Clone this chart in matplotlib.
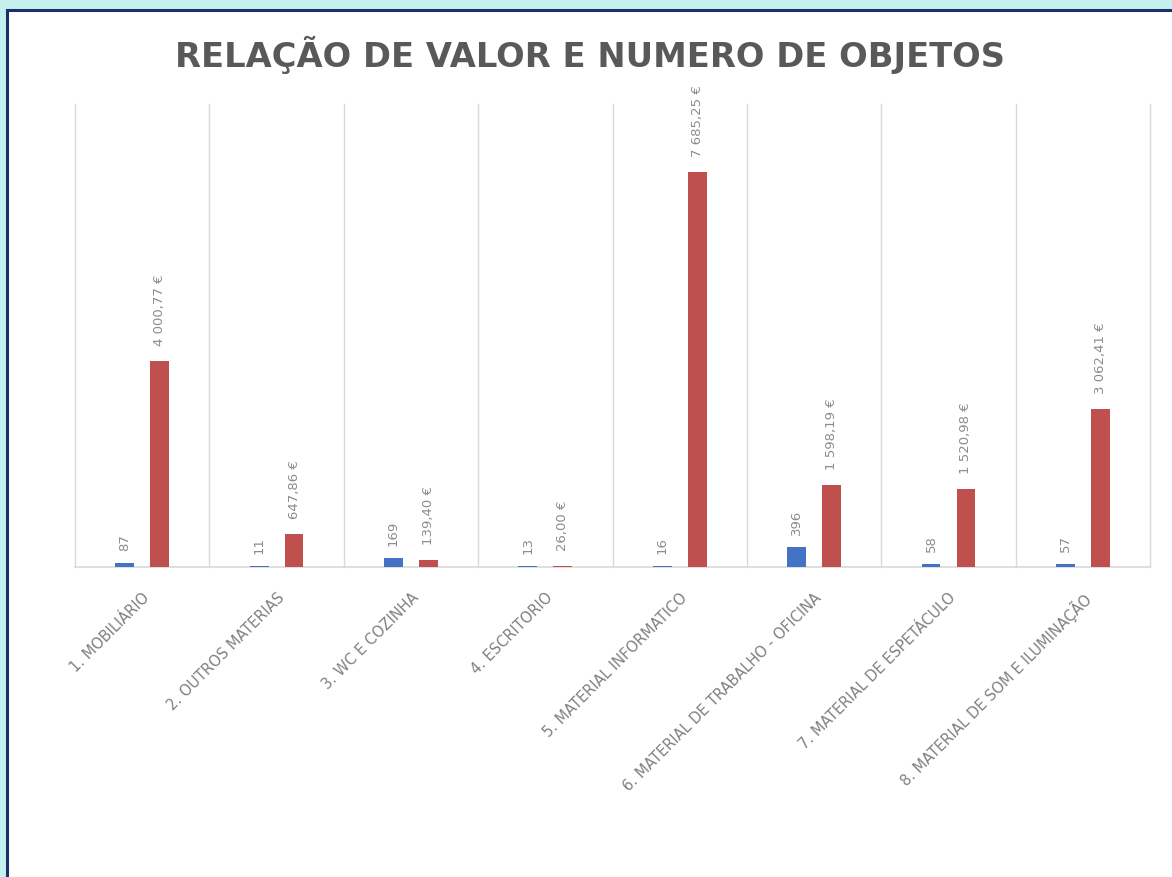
import matplotlib
matplotlib.use("Agg")
import matplotlib.pyplot as plt
from matplotlib.patches import Rectangle
import numpy as np

categories = ["1. MOBILIÁRIO", "2. OUTROS MATERIAS", "3. WC E COZINHA", "4. ESCRITORIO",
              "5. MATERIAL INFORMATICO", "6. MATERIAL DE TRABALHO - OFICINA",
              "7. MATERIAL DE ESPETÁCULO", "8. MATERIAL DE SOM E ILUMINAÇÃO"]
num_objects = [87, 11, 169, 13, 16, 396, 58, 57]
values_eur = [4000.77, 647.86, 139.40, 26.00, 7685.25, 1598.19, 1520.98, 3062.41]
title = "RELAÇÃO DE VALOR E NUMERO DE OBJETOS"


def fmt_eur(v):
    s = f"{v:,.2f}"
    s = s.replace(",", " ").replace(".", ",")
    return s + " €"


W, H = 1172, 878
fig = plt.figure(figsize=(W / 100, H / 100), dpi=100)
fig.patch.set_facecolor("#c4f1ee")

# white panel with navy border (extends beyond right/bottom edges)
panel = Rectangle((6.5 / W, -0.1), 1.2, 1 - 10.5 / H + 0.1, transform=fig.transFigure,
                  facecolor="white", edgecolor="#1b2f6b", linewidth=2.2, zorder=-5)
fig.patches.append(panel)

ax = fig.add_axes([75 / W, 1 - 568 / H, (1150 - 75) / W, (568 - 105) / H])
ax.set_zorder(2)
ax.set_facecolor("none")

x = np.arange(len(categories))
bw = 0.14
off = 0.13
blue = "#4472c4"
red = "#c0504d"
ax.bar(x - off, num_objects, width=bw, color=blue, zorder=3)
ax.bar(x + off, values_eur, width=bw, color=red, zorder=3)

lab_col = "#8c8c8c"
for xi, n, v in zip(x, num_objects, values_eur):
    ax.annotate(str(n), (xi - off, n), xytext=(0, 13), textcoords="offset pixels",
                rotation=90, ha="center", va="bottom", fontsize=9.5, color=lab_col,
                family="DejaVu Sans")
    ax.annotate(fmt_eur(v), (xi + off, v), xytext=(0, 16), textcoords="offset pixels",
                rotation=90, ha="center", va="bottom", fontsize=9.5, color=lab_col,
                family="DejaVu Sans", annotation_clip=False)

ax.set_xlim(-0.5, len(categories) - 0.5)
ax.set_ylim(0, 9000)
for b in np.arange(-0.5, len(categories), 1.0):
    ax.axvline(b, color="#d9d9d9", linewidth=1.0, zorder=1, clip_on=False)
ax.axhline(0, color="#d9d9d9", linewidth=1.2, zorder=2, clip_on=False)

for s in ax.spines.values():
    s.set_visible(False)
ax.set_yticks([])
ax.set_xticks(x)
ax.set_xticklabels(categories, rotation=45, ha="right", rotation_mode="anchor",
                   fontsize=10.5, color="#808080", family="DejaVu Sans")
ax.tick_params(axis="x", length=0, pad=16)

fig.text(590 / W, 1 - 55 / H, title, ha="center", va="center", fontsize=24.3,
         fontweight="bold", color="#595959", family="DejaVu Sans")

fig.savefig("out.png", dpi=100, facecolor=fig.get_facecolor())
